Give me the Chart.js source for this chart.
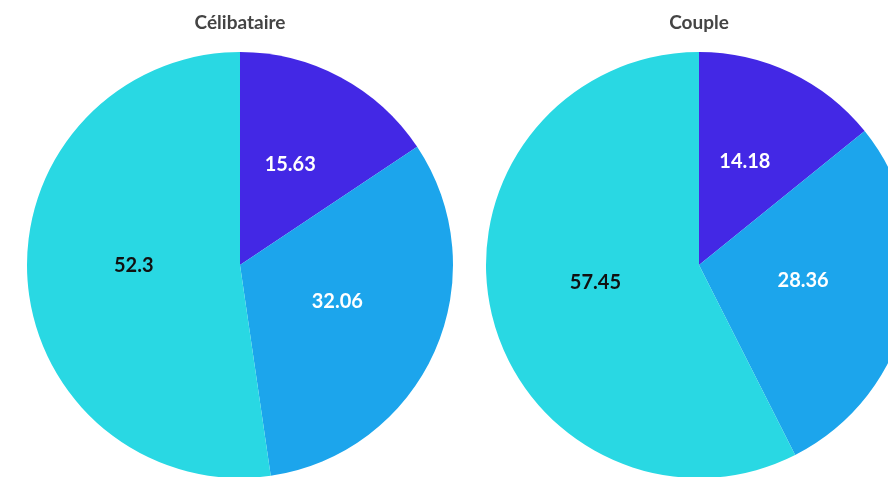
<!DOCTYPE html>
<html lang="fr">
<head>
<meta charset="utf-8">
<title>Célibataire / Couple</title>
<script src="https://cdn.jsdelivr.net/npm/chart.js@4/dist/chart.umd.min.js"></script>
<style>
  html, body { margin: 0; padding: 0; background: #fff; }
  body { width: 888px; height: 477px; overflow: hidden; position: relative; }
  .pie { position: absolute; top: 0; width: 480px; height: 478px; }
  .pie canvas { filter: blur(0.4px); }
</style>
</head>
<body>
<div class="pie" style="left:0"><canvas id="celibataire" width="480" height="478"></canvas></div>
<div class="pie" style="left:459px"><canvas id="couple" width="480" height="478"></canvas></div>

<script>
// parts (en %) dans l'ordre des secteurs, à partir du haut
const categories = ['Part A', 'Part B', 'Part C'];
const valeursCelibataire = [15.63, 32.06, 52.3];
const valeursCouple = [14.18, 28.36, 57.45];

const couleurs = ['#4328E5', '#1CA5EC', '#29D8E3'];
const couleursTexte = ['#ffffff', '#ffffff', '#111111'];

// étiquettes de valeur au centre de chaque secteur
const etiquettes = {
  id: 'etiquettes',
  afterDatasetsDraw(chart) {
    const ctx = chart.ctx;
    const meta = chart.getDatasetMeta(0);
    const data = chart.data.datasets[0].data;
    ctx.save();
    ctx.font = 'bold 20px Lato, "Noto Sans", sans-serif';
    ctx.textAlign = 'center';
    ctx.textBaseline = 'middle';
    meta.data.forEach(function(arc, i) {
      const pos = arc.tooltipPosition();
      ctx.fillStyle = couleursTexte[i];
      ctx.fillText(String(data[i]), pos.x, pos.y - 7);
    });
    ctx.restore();
  }
};

function creerCamembert(id, titre, valeurs) {
  const ctx = document.getElementById(id).getContext('2d');
  return new Chart(ctx, {
    type: 'pie',
    data: {
      labels: categories,
      datasets: [{
        data: valeurs,
        backgroundColor: couleurs,
        borderWidth: 0
      }]
    },
    options: {
      responsive: false,
      animation: false,
      layout: { padding: { left: 27, right: 27, top: 0, bottom: 0 } },
      plugins: {
        legend: { display: false },
        tooltip: { enabled: false },
        title: {
          display: true,
          text: titre,
          color: '#444444',
          font: { family: 'Lato, "Noto Sans", sans-serif', size: 19, weight: 'bold' },
          padding: { top: 11.6, bottom: 17.6 }
        }
      }
    },
    plugins: [etiquettes]
  });
}

creerCamembert('celibataire', 'Célibataire', valeursCelibataire);
creerCamembert('couple', 'Couple', valeursCouple);
</script>
</body>
</html>
